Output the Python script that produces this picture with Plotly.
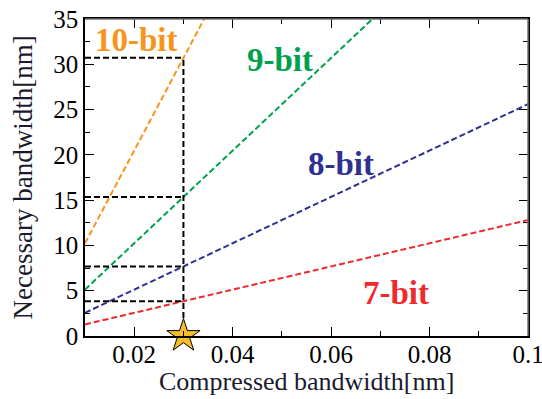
import plotly.graph_objects as go

# line endpoints (compressed bw [nm], necessary bw [nm])
x7 = [0.01, 0.1];     y7 = [1.28, 12.8]
x8 = [0.01, 0.1];     y8 = [2.56, 25.6]
x9 = [0.01, 0.0684];  y9 = [5.12, 35.0]
x10 = [0.01, 0.0342]; y10 = [10.24, 35.0]

# guide lines at the marked point
mark_x = 0.03
mark_levels = [3.84, 7.68, 15.36, 30.72]
guide_x0 = 0.01

labels = ["7-bit", "8-bit", "9-bit", "10-bit"]
label_x = [0.0731, 0.0620, 0.0496, 0.0205]
label_y = [4.7, 19.0, 30.5, 32.7]
colors = ["#EE2A2E", "#2E3192", "#00A04F", "#F7941D"]

x_title = "Compressed bandwidth[nm]"
y_title = "Necessary bandwidth[nm]"

SERIF = "Liberation Serif"

fig = go.Figure()
for xs, ys, c in zip([x7, x8, x9, x10], [y7, y8, y9, y10], colors):
    fig.add_trace(go.Scatter(x=xs, y=ys, mode="lines",
                             line=dict(color=c, width=2, dash="6px,3px"), showlegend=False))
for lv in mark_levels:
    fig.add_trace(go.Scatter(x=[guide_x0, mark_x], y=[lv, lv], mode="lines",
                             line=dict(color="black", width=2, dash="6px,3px"), showlegend=False))
fig.add_trace(go.Scatter(x=[mark_x, mark_x], y=[0, max(mark_levels)], mode="lines",
                         line=dict(color="black", width=2, dash="6px,3px"), showlegend=False))
fig.add_trace(go.Scatter(x=[mark_x], y=[0], mode="markers",
                         marker=dict(symbol="star", size=25, color="#F5BE2A",
                                     line=dict(color="black", width=1)),
                         showlegend=False, cliponaxis=False))
for t, lx, ly, c in zip(labels, label_x, label_y, colors):
    fig.add_annotation(x=lx, y=ly, text="<b>%s</b>" % t, showarrow=False,
                       font=dict(family=SERIF, size=33, color=c))

# axis titles as annotations for precise placement
fig.add_annotation(xref="paper", yref="paper", x=0.5, y=0, xanchor="center", yanchor="top",
                   yshift=-29, text=x_title, showarrow=False,
                   font=dict(family=SERIF, size=26, color="#1a1a2e"))
fig.add_annotation(xref="paper", yref="paper", x=0, y=0.5, xanchor="center", yanchor="middle",
                   xshift=-63, textangle=-90, text=y_title, showarrow=False,
                   font=dict(family=SERIF, size=27, color="#1a1a2e"))

axis_common = dict(showline=True, linecolor="black", linewidth=1.5, mirror="ticks",
                   ticks="inside", ticklen=9, tickwidth=1.2, tickcolor="black",
                   showgrid=False, zeroline=False, automargin=False, ticklabeloverflow="allow",
                   tickfont=dict(family=SERIF, size=25, color="black"))
fig.update_xaxes(range=[0.01, 0.1], dtick=0.02, tick0=0.0, ticklabelstandoff=-5,
                 minor=dict(dtick=0.01, ticks="inside", ticklen=5, tickcolor="black", showgrid=False),
                 tickformat=".2~f", **axis_common)
fig.update_yaxes(range=[0, 35], dtick=5,
                 minor=dict(dtick=2.5, ticks="inside", ticklen=5, tickcolor="black", showgrid=False),
                 **axis_common)

# top and right frame edges are grey in the reference
fig.add_shape(type="line", xref="paper", yref="paper", x0=0, x1=1, y0=1, y1=1,
              line=dict(color="#707070", width=1.5), layer="above")
fig.add_shape(type="line", xref="paper", yref="paper", x0=1, x1=1, y0=0, y1=1,
              line=dict(color="#707070", width=1.5), layer="above")

fig.update_layout(width=542, height=399, margin=dict(l=85, r=14, t=19, b=63),
                  plot_bgcolor="white", paper_bgcolor="white")
fig.write_html("out.html")
